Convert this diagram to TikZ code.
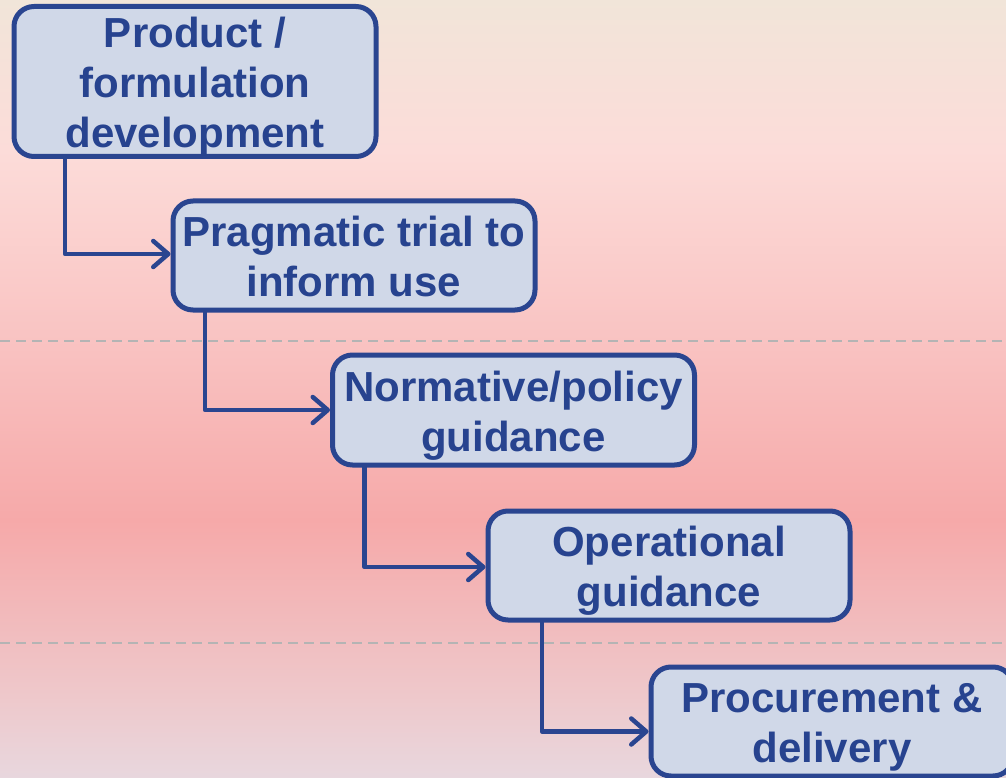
\documentclass[tikz,border=0pt]{standalone}
\usepackage{fontspec}
\setmainfont{Liberation Sans}
\usetikzlibrary{arrows.meta}
\definecolor{bgA}{HTML}{F1E5D9}
\definecolor{bgB}{HTML}{FCDCD9}
\definecolor{bgC}{HTML}{F9C3C2}
\definecolor{bgD}{HTML}{F6A9A9}
\definecolor{bgE}{HTML}{EEC9CC}
\definecolor{bgF}{HTML}{E8D7DE}
\definecolor{boxfill}{HTML}{D0D8E8}
\definecolor{boxline}{HTML}{2A4590}
\definecolor{boxtext}{HTML}{27438F}
\definecolor{dashgray}{HTML}{B4B4B4}
\newcommand\lstrut{\rule[-9pt]{0pt}{50pt}}
\tikzset{
  stagebox/.style={draw=boxline, fill=boxfill, line width=5pt, rounded corners=20pt,
    minimum width=362pt, inner sep=0pt, align=center, text=boxtext,
    font=\fontsize{42}{50}\selectfont\bfseries},
  conn/.style={draw=boxline, line width=4.5pt, line join=round, line cap=round,
    -{Straight Barb[length=15pt,width=26pt,line cap=round,line join=round]}},
  sepline/.style={draw=dashgray, line width=2pt, dash pattern=on 10pt off 6pt}
}
\begin{document}
\begin{tikzpicture}[x=1pt,y=-1pt]
\useasboundingbox (0,0) rectangle (1006,778);
\clip (0,0) rectangle (1006,778);
% background gradient
\shade[top color=bgA, bottom color=bgB] (0,-1) rectangle (1006,151);
\shade[top color=bgB, bottom color=bgC] (0,150) rectangle (1006,341);
\shade[top color=bgC, bottom color=bgD] (0,340) rectangle (1006,521);
\shade[top color=bgD, bottom color=bgE] (0,520) rectangle (1006,701);
\shade[top color=bgE, bottom color=bgF] (0,700) rectangle (1006,779);
% separators
\draw[sepline] (0,341) -- (1006,341);
\draw[sepline] (0,643) -- (1006,643);
% boxes
\node[stagebox, minimum height=149pt] (b1) at (195,81.5)
  {\lstrut Product /\\ \lstrut formulation\\ \lstrut development};
\node[stagebox, minimum height=109pt] (b2) at (354,255.5)
  {\lstrut Pragmatic trial to\\ \lstrut inform use};
\node[stagebox, minimum height=110pt] (b3) at (513.5,410)
  {\lstrut Normative/policy\\ \lstrut guidance};
\node[stagebox, minimum height=109pt] (b4) at (669,565.5)
  {\lstrut Operational\\ \lstrut guidance};
\node[stagebox, minimum height=109pt] (b5) at (832,721.5)
  {\lstrut Procurement \&\\ \lstrut delivery};
% connectors
\draw[conn] ([xshift=53.5pt]b1.south west) |- ([yshift=1.5pt]b2.west);
\draw[conn] ([xshift=34.5pt]b2.south west) |- (b3.west);
\draw[conn] ([xshift=34.5pt]b3.south west) |- ([yshift=-1.5pt]b4.west);
\draw[conn] ([xshift=56.5pt]b4.south west) |- ([yshift=-10pt]b5.west);
\end{tikzpicture}
\end{document}
